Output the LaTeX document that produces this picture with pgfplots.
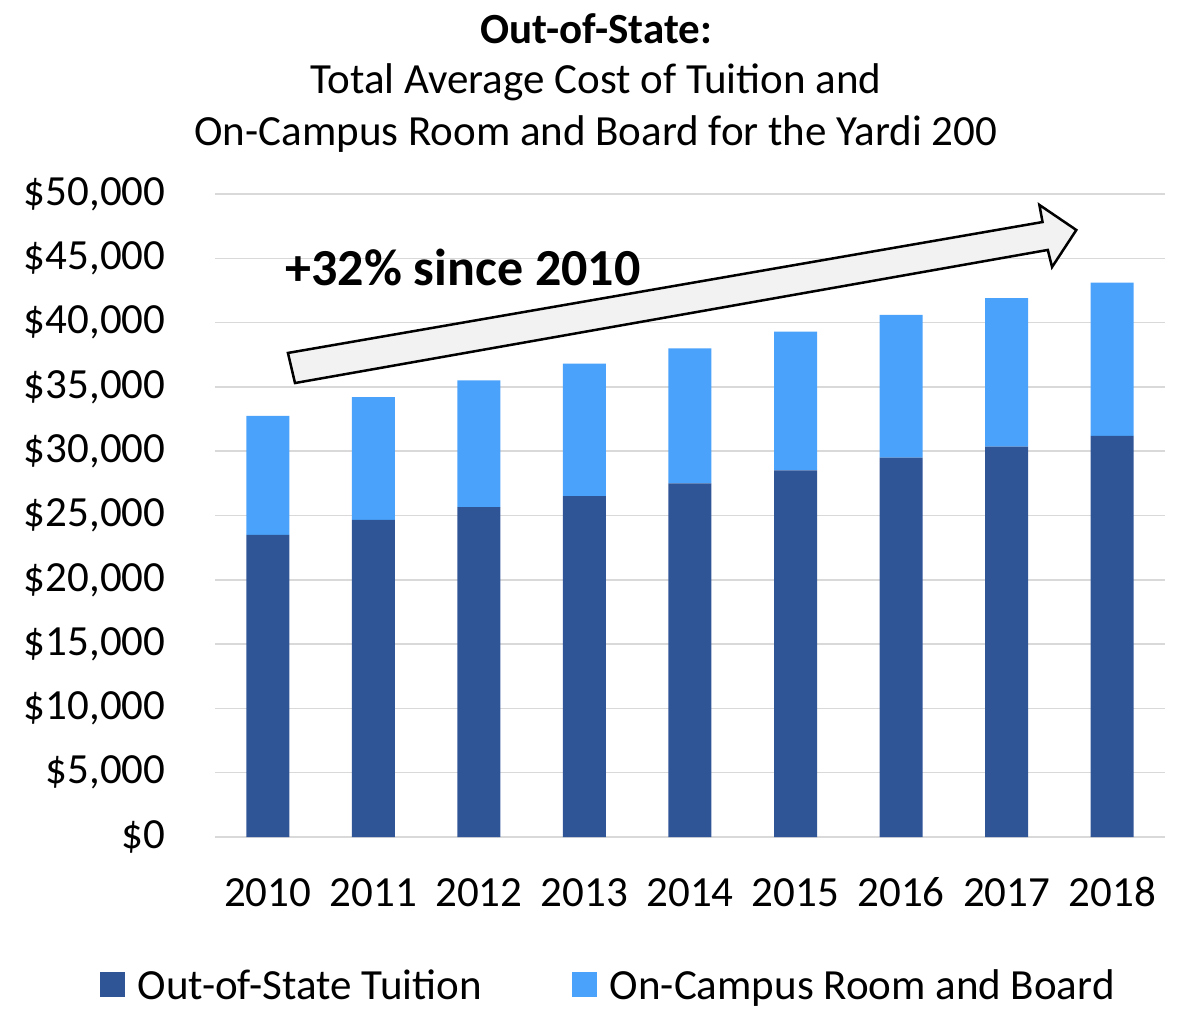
\documentclass[border=0pt]{standalone}
\usepackage{pgfplots}
\pgfplotsset{compat=1.18}
\usepackage{fontspec}
\setmainfont{Carlito}
\definecolor{dk}{HTML}{2F5597}
\definecolor{lt}{HTML}{4AA2FA}
\definecolor{gridc}{HTML}{D9D9D9}
\begin{document}
\begin{tikzpicture}
\begin{axis}[
  scale only axis, width=950pt, height=643pt,
  ybar stacked, bar width=43pt,
  xmin=-0.5, xmax=8.5, ymin=0, ymax=50000,
  scaled y ticks=false,
  xtick={0,...,8}, xticklabels={2010,2011,2012,2013,2014,2015,2016,2017,2018},
  ytick={0,5000,...,50000},
  yticklabels={{\$0},{\$5,000},{\$10,000},{\$15,000},{\$20,000},{\$25,000},{\$30,000},{\$35,000},{\$40,000},{\$45,000},{\$50,000}},
  ymajorgrids, grid style={gridc, line width=1.5pt},
  axis line style={draw=none}, major tick style={draw=none},
  tick label style={font=\fontsize{43}{50}\selectfont},
  yticklabel style={xshift=-46pt},
  xticklabel style={yshift=-36pt, text height=30pt, text depth=0pt},
  legend style={at={(axis description cs:0.414,-0.230)}, anchor=center, draw=none, legend columns=2,
    font=\fontsize{43}{50}\selectfont,
    /tikz/every even column/.append style={column sep=88pt}},
  legend image code/.code={\fill[#1] (0pt,-12.5pt) rectangle (25pt,12.5pt); \path (36pt,0pt);},
]
\addplot[fill=dk, draw=none] coordinates {(0,23500) (1,24650) (2,25650) (3,26500) (4,27500) (5,28500) (6,29500) (7,30350) (8,31200)};
\addlegendentry{Out-of-State Tuition}
\addplot[fill=lt, draw=none] coordinates {(0,9250) (1,9550) (2,9850) (3,10300) (4,10500) (5,10800) (6,11100) (7,11550) (8,11900)};
\addlegendentry{On-Campus Room and Board}
\draw[black, line width=2.5pt, fill=black!5, line join=miter]
  (axis cs:0.258,35300) -- (axis cs:7.39,45650) -- (axis cs:7.43,44320) -- (axis cs:7.66,47200)
  -- (axis cs:7.31,49150) -- (axis cs:7.34,47820) -- (axis cs:0.191,37640) -- cycle;
\node[font=\fontsize{52}{60}\selectfont\bfseries] at (axis cs:1.85,44250) {+32\% since 2010};
\end{axis}
\node[font=\fontsize{43}{50}\selectfont\bfseries] at (381pt,808pt) {Out-of-State:};
\node[font=\fontsize{43}{50}\selectfont] at (381pt,755pt) {Total Average Cost of Tuition and};
\node[font=\fontsize{43}{50}\selectfont] at (381pt,703pt) {On-Campus Room and Board for the Yardi 200};
\pgfresetboundingbox
\path[use as bounding box] (-215pt,-172pt) rectangle (963pt,837pt);
\end{tikzpicture}
\end{document}
